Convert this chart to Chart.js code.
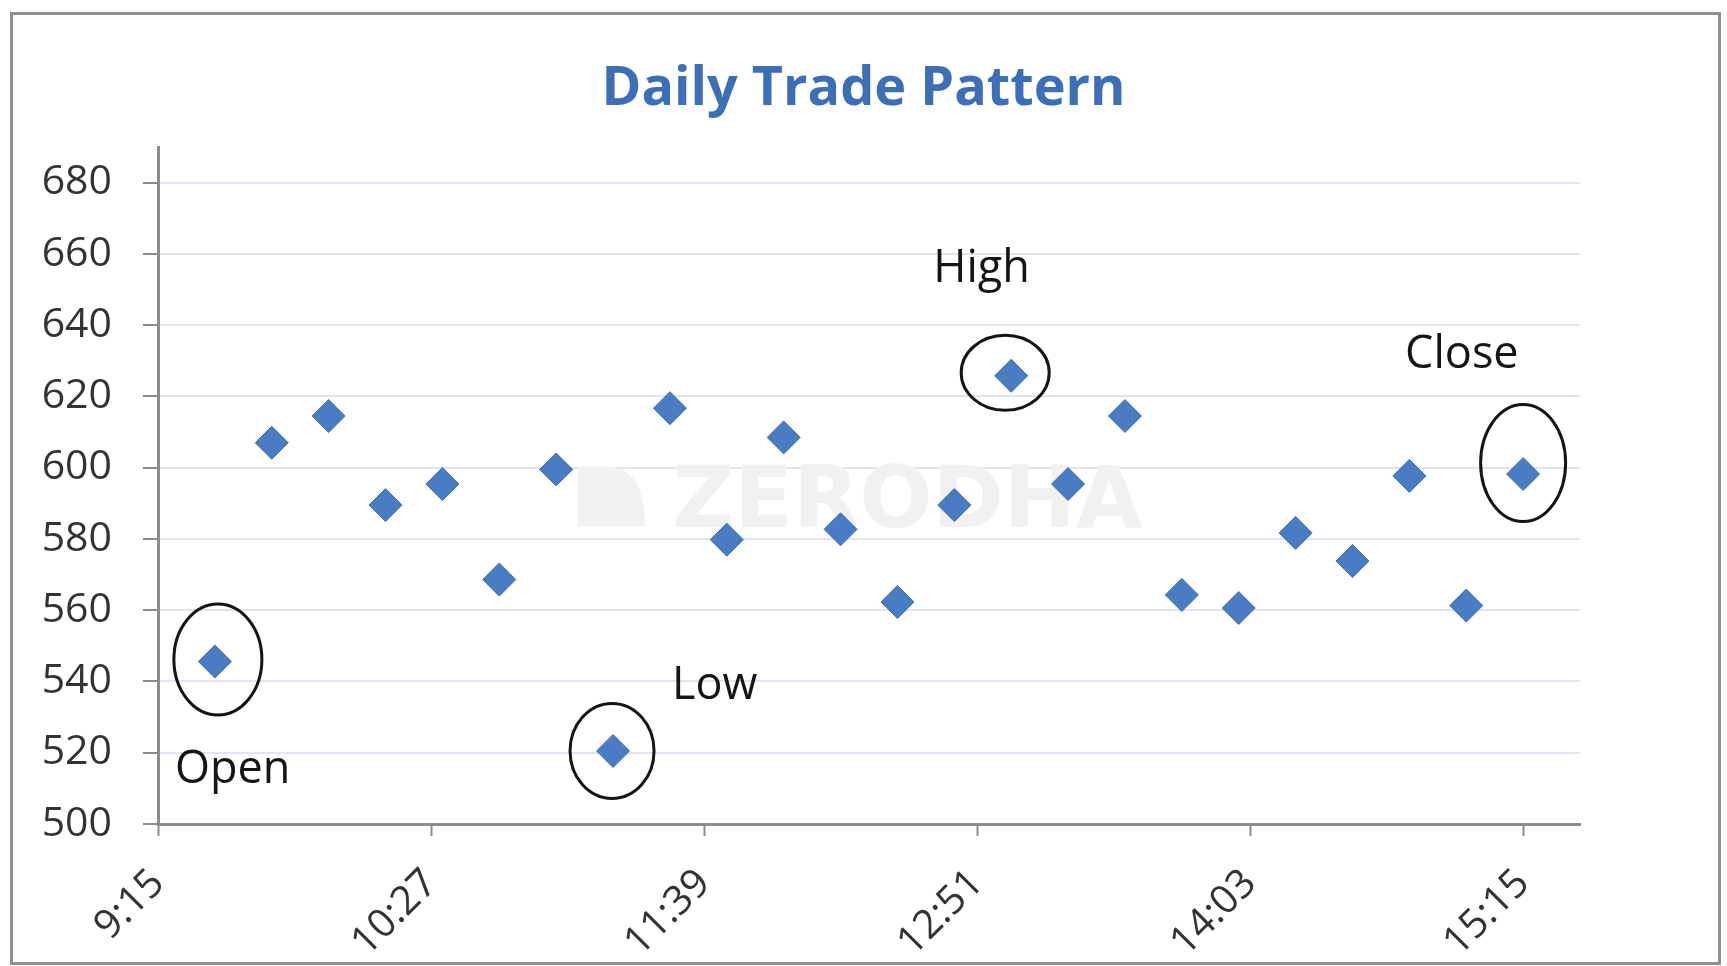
<!DOCTYPE html>
<html>
<head>
<meta charset="utf-8">
<title>Daily Trade Pattern</title>
<script src="https://cdn.jsdelivr.net/npm/chart.js@4.4.1/dist/chart.umd.min.js"></script>
<style>
html,body{margin:0;padding:0;background:#fff;overflow:hidden}
canvas{display:block}
</style>
</head>
<body>
<canvas id="tradeChart" width="1727" height="966"></canvas>
<script>
// prices every 15 minutes
const tradeTimes = ['9:30','9:45','10:00','10:15','10:30','10:45','11:00','11:15',
    '11:30','11:45','12:00','12:15','12:30','12:45','13:00','13:15',
    '13:30','13:45','14:00','14:15','14:30','14:45','15:00','15:15'];
const tradePrices = [545.6, 607, 614.5, 589.5, 595.4, 568.6, 599.5, 520.5,
    616.7, 579.8, 608.5, 582.7, 562.3, 589.5, 625.8, 595.4,
    614.5, 564.3, 560.6, 581.7, 573.8, 597.7, 561.3, 598.2];

const xTickTimes = ['9:15','10:27','11:39','12:51','14:03','15:15'];
const yTickValues = [500, 520, 540, 560, 580, 600, 620, 640, 660, 680];

const chartTitle = 'Daily Trade Pattern';
const noteLabels = ['Open','Low','High','Close'];
const noteTimes = ['9:30','11:15','13:00','15:15'];

// ring and text placement around each marked point (pixels from the point)
const noteStyle = [
    {dx: 3,  dy: -2,  rx: 44, ry: 55.5, tx: -40,  ty: 121},
    {dx: -1, dy: 0,   rx: 42, ry: 47.5, tx: 59,   ty: -52},
    {dx: -6, dy: -3,  rx: 44, ry: 37.5, tx: -78,  ty: -94},
    {dx: 0,  dy: -11, rx: 42.5, ry: 58.5, tx: -118, ty: -106}
];

function toMinutes(t)
{
    var p = t.split(':');
    return parseInt(p[0]) * 60 + parseInt(p[1]);
}

function toClock(m)
{
    var h = Math.floor(m / 60);
    var mm = Math.round(m % 60);
    return h + ':' + (mm < 10 ? '0' : '') + mm;
}

const points = tradeTimes.map(function(t, i) {
    return {x: toMinutes(t), y: tradePrices[i]};
});

// white background, outer frame and the title (centred on the whole picture)
const framePlugin = {
    id: 'frame',
    beforeDraw: function(chart) {
        var ctx = chart.ctx;
        ctx.save();
        ctx.fillStyle = '#ffffff';
        ctx.fillRect(0, 0, chart.width, chart.height);
        ctx.fillStyle = '#3d6fb6';
        ctx.font = 'bold 54px "Open Sans"';
        ctx.textAlign = 'center';
        ctx.textBaseline = 'alphabetic';
        ctx.fillText(chartTitle, chart.width / 2, 105);
        ctx.restore();
    },
    afterDraw: function(chart) {
        var ctx = chart.ctx;
        ctx.save();
        ctx.strokeStyle = '#8f8f8f';
        ctx.lineWidth = 3;
        ctx.strokeRect(11.5, 13.5, 1708, 950);
        ctx.restore();
    }
};

const watermarkPlugin = {
    id: 'watermark',
    beforeDatasetsDraw: function(chart) {
        var a = chart.chartArea;
        var cx = (a.left + a.right) / 2;
        var cy = (a.top + a.bottom) / 2;
        var ctx = chart.ctx;
        ctx.save();
        ctx.fillStyle = '#f1f1f1';
        ctx.font = 'bold 86px "DejaVu Sans"';
        ctx.textAlign = 'left';
        ctx.textBaseline = 'alphabetic';
        ctx.fillText('ZERODHA', cx - 197, cy + 41);
        // little logo block in front of the word
        var L = cx - 291, T = cy - 19, R = cx - 224, B = cy + 41;
        ctx.beginPath();
        ctx.moveTo(L, B);
        ctx.lineTo(L, T);
        ctx.lineTo(L + 28, T);
        ctx.quadraticCurveTo(R, T, R, B);
        ctx.closePath();
        ctx.fill();
        ctx.restore();
    }
};

const notesPlugin = {
    id: 'notes',
    afterDatasetsDraw: function(chart) {
        var xs = chart.scales.x, ys = chart.scales.y;
        var ctx = chart.ctx;
        ctx.save();
        for (var i = 0; i < noteLabels.length; i++)
        {
            var idx = tradeTimes.indexOf(noteTimes[i]);
            var px = xs.getPixelForValue(points[idx].x);
            var py = ys.getPixelForValue(points[idx].y);
            var s = noteStyle[i];

            ctx.beginPath();
            ctx.ellipse(px + s.dx, py + s.dy, s.rx, s.ry, 0, 0, Math.PI * 2);
            ctx.strokeStyle = '#151515';
            ctx.lineWidth = 3;
            ctx.stroke();

            ctx.fillStyle = '#151515';
            ctx.font = '45px "Open Sans"';
            ctx.textAlign = 'left';
            ctx.textBaseline = 'alphabetic';
            ctx.fillText(noteLabels[i], px + s.tx, py + s.ty);
        }
        ctx.restore();
    }
};

var ctx = document.getElementById('tradeChart').getContext('2d');

window.tradeChart = new Chart(ctx, {
    type: 'scatter',
    data: {
        datasets: [{
            data: points,
            label: 'Price',
            pointStyle: 'rectRot',
            pointRadius: 16.5,
            pointHoverRadius: 16.5,
            backgroundColor: '#4a7cc4',
            borderColor: '#3e6db3',
            borderWidth: 1,
            showLine: false
        }]
    },
    options: {
        responsive: false,
        animation: false,
        events: [],
        layout: {
            padding: {left: 0, right: 147, top: 147, bottom: 0}
        },
        plugins: {
            legend: {display: false},
            tooltip: {enabled: false},
            title: {display: false}
        },
        scales: {
            x: {
                type: 'linear',
                min: toMinutes('9:15'),
                max: toMinutes('15:30'),
                afterBuildTicks: function(scale) {
                    scale.ticks = xTickTimes.map(function(t) { return {value: toMinutes(t)}; });
                },
                afterFit: function(scale) { scale.height = 142; },
                ticks: {
                    autoSkip: false,
                    minRotation: 45,
                    maxRotation: 45,
                    padding: 24,
                    color: '#333333',
                    font: {family: 'Open Sans', size: 40},
                    callback: function(v) { return toClock(v); }
                },
                grid: {
                    drawOnChartArea: false,
                    drawTicks: true,
                    tickLength: 12,
                    tickColor: '#8c8c8c',
                    tickWidth: 2
                },
                border: {color: '#8c8c8c', width: 3}
            },
            y: {
                min: 500,
                max: 690,
                afterBuildTicks: function(scale) {
                    scale.ticks = yTickValues.map(function(v) { return {value: v}; });
                },
                afterFit: function(scale) { scale.width = 158; },
                ticks: {
                    padding: 31,
                    color: '#333333',
                    font: {family: 'Open Sans', size: 41}
                },
                grid: {
                    color: function(c) {
                        return (c.tick && c.tick.value === 500) ? 'rgba(0,0,0,0)' : '#dfe4ed';
                    },
                    lineWidth: 2,
                    drawTicks: true,
                    tickLength: 15,
                    tickColor: '#8c8c8c',
                    tickWidth: 2
                },
                border: {color: '#8c8c8c', width: 3}
            }
        }
    },
    plugins: [framePlugin, watermarkPlugin, notesPlugin]
});
</script>
</body>
</html>
